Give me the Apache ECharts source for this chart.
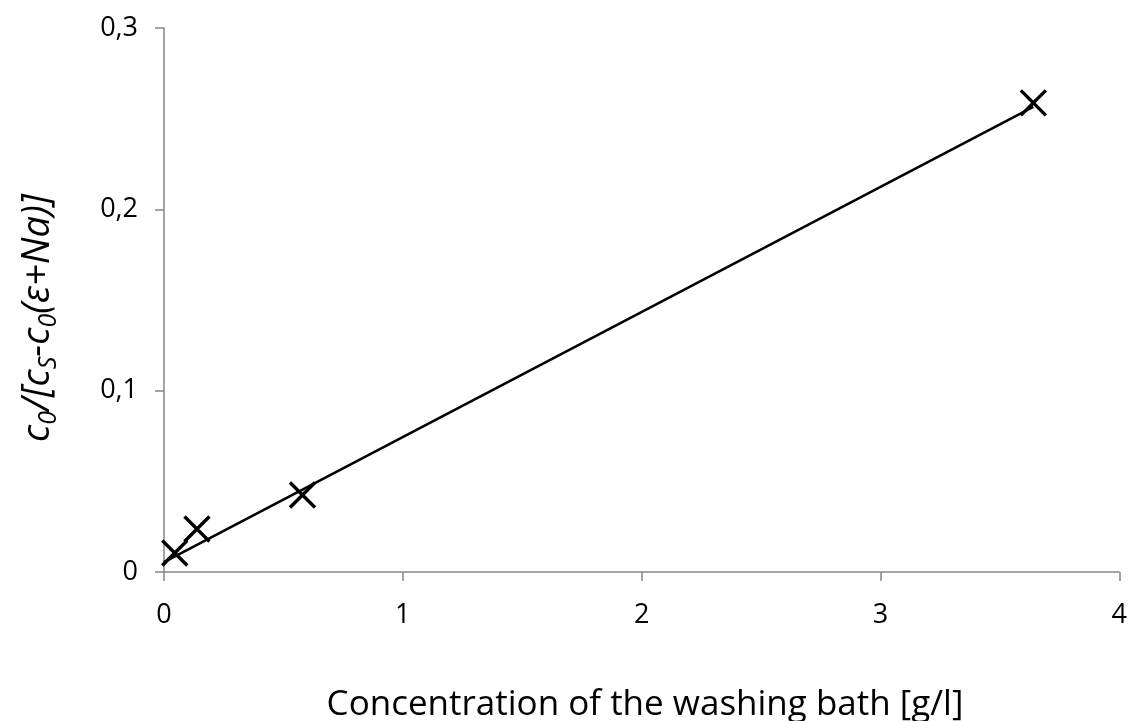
<!DOCTYPE html>
<html>
<head>
<meta charset="utf-8">
<script src="https://cdn.jsdelivr.net/npm/echarts@6/dist/echarts.min.js"></script>
<style>
  html, body { margin: 0; padding: 0; background: #fff; }
  #chart { width: 1130px; height: 721px; }
</style>
</head>
<body>
<div id="chart"></div>
<script>
// Measured points: bath concentration [g/l] vs. c0/[cS - c0(ε+Na)]
const concentration = [0.045, 0.138, 0.58, 3.64];
const ratio = [0.0105, 0.0237, 0.0425, 0.2587];

// Linear trend line end points
const trendX = [0.0, 3.64];
const trendY = [0.0055, 0.2565];

const xTicks = [0, 1, 2, 3, 4];
const yTicks = [0, 0.1, 0.2, 0.3];

const font = '"Open Sans", "Liberation Sans", sans-serif';
const axisGrey = '#868686';

const chart = echarts.init(document.getElementById('chart'), null, { renderer: 'canvas' });

const points = concentration.map((x, i) => [x, ratio[i]]);
const trend = trendX.map((x, i) => [x, trendY[i]]);

chart.setOption({
  animation: false,
  backgroundColor: '#ffffff',
  grid: { left: 164, right: 7, top: 28, bottom: 149, containLabel: false },
  xAxis: {
    type: 'value',
    min: xTicks[0],
    max: xTicks[xTicks.length - 1],
    interval: 1,
    axisLine: { lineStyle: { color: axisGrey, width: 1.5 } },
    axisTick: { show: true, length: 9, inside: false, lineStyle: { color: axisGrey, width: 1.5 } },
    axisLabel: { color: '#000', fontSize: 27, fontFamily: font, margin: 30 },
    splitLine: { show: false }
  },
  yAxis: {
    type: 'value',
    min: yTicks[0],
    max: yTicks[yTicks.length - 1],
    interval: 0.1,
    axisLine: { show: true, lineStyle: { color: axisGrey, width: 1.5 } },
    axisTick: { show: true, length: 9, inside: false, lineStyle: { color: axisGrey, width: 1.5 } },
    axisLabel: {
      color: '#000', fontSize: 27, fontFamily: font, margin: 26,
      formatter: v => (Math.round(v * 10) / 10).toString().replace('.', ',')
    },
    splitLine: { show: false }
  },
  graphic: [
    {
      type: 'text',
      x: 645,
      y: 705,
      style: {
        text: 'Concentration of the washing bath [g/l]',
        fontSize: 35,
        fontFamily: font,
        align: 'center',
        verticalAlign: 'middle',
        fill: '#000'
      }
    },
    {
      type: 'text',
      x: 38,
      y: 318,
      rotation: Math.PI / 2,
      style: {
        text: '{m|c}{s|0}{m|/[c}{s|S}{m|-c}{s|0}{m|(ε+Na)]}',
        align: 'center',
        verticalAlign: 'middle',
        fill: '#000',
        rich: {
          m: { fontSize: 38, fontStyle: 'italic', fontFamily: font, lineHeight: 46, verticalAlign: 'middle', fill: '#000' },
          s: { fontSize: 25, fontStyle: 'italic', fontFamily: font, lineHeight: 46, verticalAlign: 'bottom', padding: [14, 0, 0, 0], fill: '#000' }
        }
      }
    }
  ],
  series: [
    {
      type: 'line',
      data: trend,
      symbol: 'none',
      lineStyle: { color: '#000', width: 2.5 },
      z: 2
    },
    {
      type: 'scatter',
      data: points,
      symbol: 'path://M0,0L10,10M10,0L0,10',
      symbolSize: 25,
      itemStyle: { color: 'none', borderColor: '#000', borderWidth: 3.4, opacity: 1 },
      z: 3
    }
  ]
});
</script>
</body>
</html>
